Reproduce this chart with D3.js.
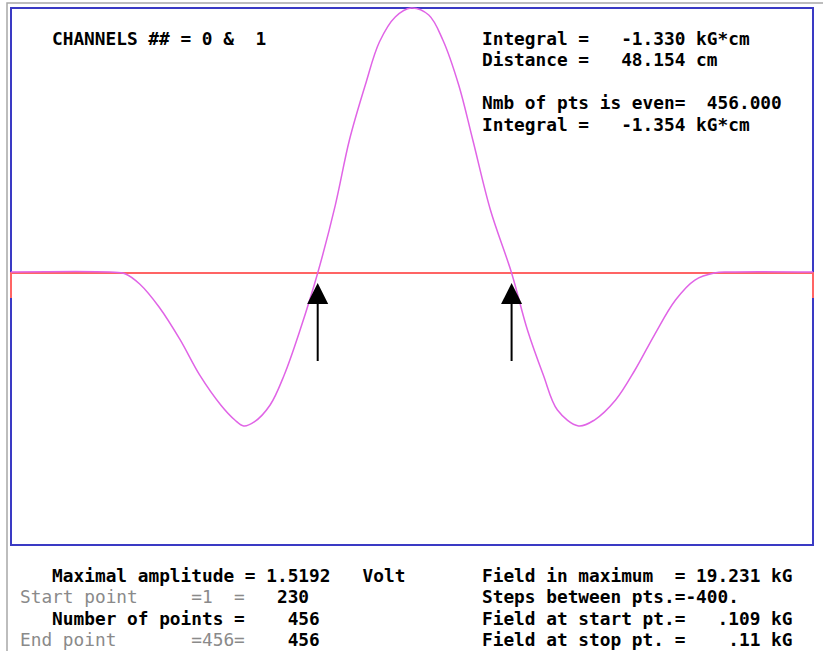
<!DOCTYPE html>
<html>
<head>
<meta charset="utf-8">
<script src="https://cdn.jsdelivr.net/npm/d3@7"></script>
<style>
  body { margin: 0; background: #fff; }
  svg text { font-family: "DejaVu Sans Mono", "Liberation Mono", monospace; font-weight: bold; font-size: 17.8px; white-space: pre; }
</style>
</head>
<body>
<svg id="chart" width="823" height="651"></svg>
<script>
// point index along the scan and measured field (kG)
const pointIdx = [1, 57, 66, 74, 85, 97, 108, 120, 128, 133, 139, 148, 156, 165, 175, 185, 193, 202, 210, 219, 228,
  238, 246, 255, 263, 273, 285, 294, 303, 311, 323, 332, 344, 355, 366, 378, 389, 400, 409, 456]
const fieldKG = [0.07, 0.07, -0.07, -0.80, -2.47, -4.86, -7.40, -9.58, -10.67, -11.10, -10.81, -9.58, -7.40, -4.14, 0, 4.93, 9.65, 13.64, 16.76, 18.58, 19.23,
  18.72, 16.91, 13.64, 9.65, 4.57, 0, -4.14, -7.40, -9.94, -11.10, -10.67, -9.22, -7.04, -4.50, -1.96, -0.51, 0, 0.07, 0.07]
// zero crossings marked with arrows
const markerIdx = [175, 285]

const headerLines = ["CHANNELS ## = 0 &  1"]
const resultLines = ["Integral =   -1.330 kG*cm", "Distance =   48.154 cm", "", "Nmb of pts is even=  456.000", "Integral =   -1.354 kG*cm"]
const infoLeft = [
  [["   Maximal amplitude = 1.5192   Volt", "#000"]],
  [["Start point     =1  =   ", "#8a8a8a"], ["230", "#000"]],
  [["   Number of points =    456", "#000"]],
  [["End point       =456=    ", "#8a8a8a"], ["456", "#000"]]
]
const infoRight = ["Field in maximum  = 19.231 kG", "Steps between pts.=-400.", "Field at start pt.=   .109 kG", "Field at stop pt. =    .11 kG"]

const svg = d3.select("#chart")
const frame = {left: 11, right: 813, top: 8, bottom: 545}

const x = d3.scaleLinear()
  .domain([1, 456])
  .range([frame.left, frame.right])

const y = d3.scaleLinear()
  .domain([-19.74, 19.231])
  .range([frame.bottom, frame.top])

// outer window edge
svg.append("path")
  .attr("d", "M7,651V3H823")
  .attr("fill", "none")
  .attr("stroke", "#a8a8a8")
  .attr("stroke-width", 1.5)

svg.append("rect")
  .attr("x", frame.left)
  .attr("y", frame.top)
  .attr("width", frame.right - frame.left)
  .attr("height", frame.bottom - frame.top)
  .attr("fill", "#fff")
  .attr("stroke", "#3a3ac4")
  .attr("stroke-width", 2)

// zero line with end ticks
const zeroY = y(0)
svg.append("path")
  .attr("d", "M" + x(1) + "," + (zeroY + 25) + "V" + zeroY + "H" + x(456) + "V" + (zeroY + 25))
  .attr("fill", "none")
  .attr("stroke", "#ff6464")
  .attr("stroke-width", 2)

const line = d3.line()
  .x((d, i) => x(pointIdx[i]))
  .y(d => y(d))
  .curve(d3.curveCatmullRom)

svg.append("path")
  .datum(fieldKG)
  .attr("d", line)
  .attr("fill", "none")
  .attr("stroke", "#e064e6")
  .attr("stroke-width", 1.5)

// arrows
const arrows = svg.selectAll(".arrow")
  .data(markerIdx)
  .enter().append("g")
    .attr("class", "arrow")
    .attr("transform", d => "translate(" + x(d) + "," + zeroY + ")")
arrows.append("line")
  .attr("x1", 0).attr("x2", 0)
  .attr("y1", 28).attr("y2", 88)
  .attr("stroke", "#000")
  .attr("stroke-width", 2)
arrows.append("path")
  .attr("d", "M0,10L10.5,31H-10.5Z")
  .attr("fill", "#000")

svg.append("text")
  .attr("x", 52)
  .attr("y", 44.5)
  .text(headerLines[0])

svg.selectAll(".res")
  .data(resultLines)
  .enter().append("text")
    .attr("class", "res")
    .attr("x", 482)
    .attr("y", (d, i) => 44.5 + i * 21.5)
    .text(d => d)

const left = svg.selectAll(".infoL")
  .data(infoLeft)
  .enter().append("text")
    .attr("class", "infoL")
    .attr("x", 20)
    .attr("y", (d, i) => 581.5 + i * 21.5)
left.selectAll("tspan")
  .data(d => d)
  .enter().append("tspan")
    .attr("fill", d => d[1])
    .attr("font-weight", d => d[1] === "#000" ? "bold" : "normal")
    .text(d => d[0])

svg.selectAll(".infoR")
  .data(infoRight)
  .enter().append("text")
    .attr("class", "infoR")
    .attr("x", 482)
    .attr("y", (d, i) => 581.5 + i * 21.5)
    .text(d => d)
</script>
</body>
</html>
